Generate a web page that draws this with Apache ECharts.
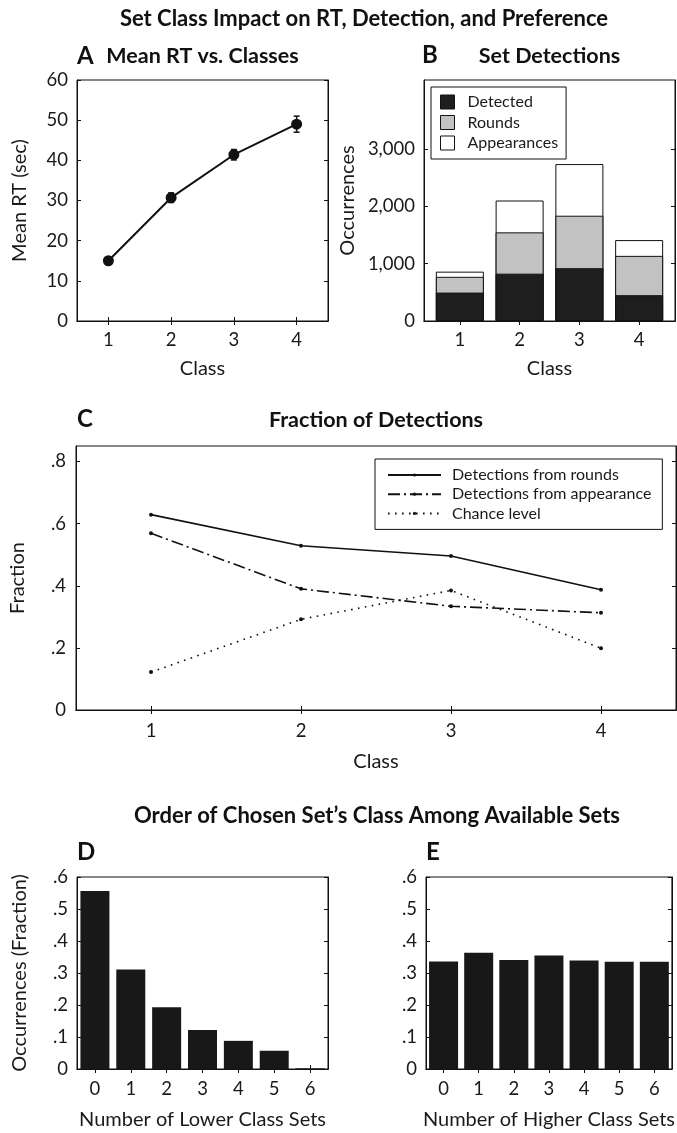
<!DOCTYPE html>
<html>
<head>
<meta charset="utf-8">
<title>Set Class Impact</title>
<script src="https://cdn.jsdelivr.net/npm/echarts@6/dist/echarts.min.js"></script>
<style>
html, body { margin: 0; padding: 0; background: #fff; }
#main { width: 677px; height: 1133px; }
</style>
</head>
<body>
<div id="main"></div>
<script>
// data
var classes = ['1', '2', '3', '4'];
var classNums = [1, 2, 3, 4];
var meanRT = [15.0, 30.7, 41.4, 49.0];
var meanRTErr = [0.6, 1.2, 1.3, 2.0];

var detected = [495, 825, 920, 450];
var rounds = [770, 1545, 1835, 1135];
var appearances = [860, 2100, 2735, 1410];
var ticksB = [0, 1000, 2000, 3000];

var fracRounds = [0.629, 0.529, 0.496, 0.387];
var fracAppear = [0.569, 0.390, 0.334, 0.313];
var fracChance = [0.122, 0.292, 0.385, 0.199];
var ticksC = [0, 0.2, 0.4, 0.6, 0.8];

var setCounts = ['0', '1', '2', '3', '4', '5', '6'];
var lowerFrac = [0.556, 0.311, 0.193, 0.122, 0.088, 0.057, 0.002];
var higherFrac = [0.336, 0.363, 0.341, 0.355, 0.339, 0.335, 0.335];

var FONT = 'Lato';
var INK = '#111';

var myChart = echarts.init(document.getElementById('main'), null, { renderer: 'canvas' });

function frac(v) {
    if (v === 0) return '0';
    return v.toFixed(1).replace(/^0/, '');
}
function thousands(v) {
    return v === 0 ? '0' : String(v).replace(/\B(?=(\d{3})+(?!\d))/g, ',');
}
function Ext(a, b) {
    for (var k in b) {
        if (b[k] && typeof b[k] === 'object' && !Array.isArray(b[k]) && a[k] && typeof a[k] === 'object') {
            a[k] = Ext(a[k], b[k]);
        } else {
            a[k] = b[k];
        }
    }
    return a;
}

// bottom / left axes carry labels, top / right are just mirrored ticks (box look)
function xAxisOf(grid, base, labelOpt, name, nameGap) {
    var ax = {
        gridIndex: grid,
        position: 'bottom',
        axisLine: { show: true, lineStyle: { color: INK, width: 1 } },
        axisTick: { show: true, inside: true, length: 4, alignWithLabel: true, lineStyle: { color: INK } },
        axisLabel: Ext({ show: true, fontFamily: FONT, fontSize: 18.5, color: '#1a1a1a', margin: 10 }, labelOpt || {}),
        splitLine: { show: false },
        name: name || '',
        nameLocation: 'middle',
        nameGap: nameGap || 30,
        nameTextStyle: { fontFamily: FONT, fontSize: 20, color: '#1a1a1a' }
    };
    return Ext(ax, base);
}
function topAxisOf(grid, base) {
    var ax = {
        gridIndex: grid,
        position: 'top',
        axisLine: { show: true, lineStyle: { color: INK, width: 1 } },
        axisTick: { show: true, inside: true, length: 4, alignWithLabel: true, lineStyle: { color: INK } },
        axisLabel: { show: false },
        splitLine: { show: false }
    };
    return Ext(ax, base);
}
function yAxisOf(grid, base, labelOpt, name, nameGap) {
    var ax = {
        gridIndex: grid,
        type: 'value',
        position: 'left',
        axisLine: { show: true, lineStyle: { color: INK, width: 1 } },
        axisTick: { show: true, inside: true, length: 4, lineStyle: { color: INK } },
        axisLabel: Ext({ show: true, fontFamily: FONT, fontSize: 18.5, color: '#1a1a1a', margin: 9 }, labelOpt || {}),
        splitLine: { show: false },
        name: name || '',
        nameLocation: 'middle',
        nameGap: nameGap || 40,
        nameTextStyle: { fontFamily: FONT, fontSize: 20, color: '#1a1a1a' }
    };
    return Ext(ax, base);
}
function rightAxisOf(grid, base) {
    var ax = {
        gridIndex: grid,
        type: 'value',
        position: 'right',
        axisLine: { show: true, lineStyle: { color: INK, width: 1 } },
        axisTick: { show: true, inside: true, length: 4, lineStyle: { color: INK } },
        axisLabel: { show: false },
        splitLine: { show: false }
    };
    return Ext(ax, base);
}

var xA = { type: 'category', data: classes, boundaryGap: true };
var xB = { type: 'value', min: 0.4, max: 4.6,
    axisTick: { customValues: classNums }, axisLabel: { customValues: classNums } };
var xC = { type: 'category', data: classes, boundaryGap: true };
var xD = { type: 'category', data: setCounts, boundaryGap: true };
var xE = { type: 'category', data: setCounts, boundaryGap: true };

var yA = { min: 0, max: 60, interval: 10 };
var yB = { min: 0, max: 4200, axisTick: { customValues: ticksB } };
var yC = { min: 0, max: 0.85, axisTick: { customValues: ticksC } };
var yD = { min: 0, max: 0.6, interval: 0.1 };
var yE = { min: 0, max: 0.6, interval: 0.1 };

function errorBars(params, api) {
    var x = api.value(0), y = api.value(1), e = api.value(2);
    var hi = api.coord([x, y + e]);
    var lo = api.coord([x, y - e]);
    var cap = 3;
    var st = { stroke: INK, lineWidth: 1.5 };
    return {
        type: 'group',
        children: [
            { type: 'line', shape: { x1: hi[0], y1: hi[1], x2: lo[0], y2: lo[1] }, style: st },
            { type: 'line', shape: { x1: hi[0] - cap, y1: hi[1], x2: hi[0] + cap, y2: hi[1] }, style: st },
            { type: 'line', shape: { x1: lo[0] - cap, y1: lo[1], x2: lo[0] + cap, y2: lo[1] }, style: st }
        ]
    };
}

function pairs(xs, ys) {
    return ys.map(function (v, i) { return [xs[i], v]; });
}

function txt(s, x, y, align, size) {
    return {
        type: 'text', x: x, y: y, silent: true,
        style: {
            text: s, fill: '#111',
            font: 'bold ' + size + 'px ' + FONT,
            align: align, verticalAlign: 'middle',
            textAlign: align, textVerticalAlign: 'middle'
        }
    };
}

var gridBox = { show: true, borderColor: INK, borderWidth: 1, backgroundColor: 'transparent', containLabel: false };

var option = {
    backgroundColor: '#fff',
    animation: false,
    textStyle: { fontFamily: FONT },
    grid: [
        Ext({ left: 77, top: 80, width: 251, height: 241 }, gridBox),
        Ext({ left: 424, top: 80, width: 251, height: 241 }, gridBox),
        Ext({ left: 76, top: 446, width: 600, height: 264 }, gridBox),
        Ext({ left: 77, top: 877, width: 251, height: 192 }, gridBox),
        Ext({ left: 426, top: 877, width: 249, height: 192 }, gridBox)
    ],
    xAxis: [
        xAxisOf(0, xA, null, 'Class', 38),
        xAxisOf(1, xB, { margin: 10 }, 'Class', 38),
        xAxisOf(2, xC, { margin: 12 }, 'Class', 42),
        xAxisOf(3, xD, { margin: 11 }, 'Number of Lower Class Sets', 41),
        xAxisOf(4, xE, { margin: 11 }, 'Number of Higher Class Sets', 41),
        topAxisOf(0, { type: 'category', data: classes, boundaryGap: true }),
        topAxisOf(1, { type: 'value', min: 0.4, max: 4.6, axisTick: { customValues: classNums } }),
        topAxisOf(2, { type: 'category', data: classes, boundaryGap: true }),
        topAxisOf(3, { type: 'category', data: setCounts, boundaryGap: true }),
        topAxisOf(4, { type: 'category', data: setCounts, boundaryGap: true })
    ],
    yAxis: [
        yAxisOf(0, yA, null, 'Mean RT (sec)', 47),
        yAxisOf(1, yB, { customValues: ticksB, formatter: thousands }, 'Occurrences', 66),
        yAxisOf(2, yC, { customValues: ticksC, formatter: frac, margin: 10 }, 'Fraction', 48),
        yAxisOf(3, yD, { formatter: frac }, 'Occurrences (Fraction)', 47),
        yAxisOf(4, yE, { formatter: frac }, '', 40),
        rightAxisOf(0, { min: 0, max: 60, interval: 10 }),
        rightAxisOf(1, { min: 0, max: 4200, axisTick: { customValues: ticksB } }),
        rightAxisOf(2, { min: 0, max: 0.85, axisTick: { customValues: ticksC } }),
        rightAxisOf(3, { min: 0, max: 0.6, interval: 0.1 }),
        rightAxisOf(4, { min: 0, max: 0.6, interval: 0.1 })
    ],
    legend: [
        {
            left: 431, top: 87,
            orient: 'vertical',
            padding: [7, 8, 8, 9],
            itemGap: 4.5,
            itemWidth: 14, itemHeight: 14,
            icon: 'rect',
            borderColor: INK, borderWidth: 1,
            backgroundColor: '#fff',
            textStyle: { fontFamily: FONT, fontSize: 16, color: '#1a1a1a', padding: [0, 0, 0, 8] },
            data: [
                { name: 'Detected', itemStyle: { borderColor: INK, borderWidth: 1 } },
                { name: 'Rounds', itemStyle: { borderColor: INK, borderWidth: 1 } },
                { name: 'Appearances', itemStyle: { borderColor: INK, borderWidth: 1 } }
            ]
        },
        {
            left: 375, top: 459,
            orient: 'vertical',
            padding: [8, 11, 8, 12],
            itemGap: 3.2,
            itemWidth: 53, itemHeight: 4,
            borderColor: INK, borderWidth: 1,
            backgroundColor: '#fff',
            textStyle: { fontFamily: FONT, fontSize: 16, color: '#1a1a1a', padding: [0, 0, 0, 6] },
            data: ['Detections from rounds', 'Detections from appearance', 'Chance level']
        }
    ],
    series: [
        // A
        {
            name: 'Mean RT', type: 'line', xAxisIndex: 0, yAxisIndex: 0,
            data: meanRT,
            symbol: 'circle', symbolSize: 11,
            itemStyle: { color: INK },
            lineStyle: { color: INK, width: 2 },
            z: 3
        },
        {
            name: 'Mean RT err', type: 'custom', xAxisIndex: 0, yAxisIndex: 0,
            data: meanRT.map(function (v, i) { return [i, v, meanRTErr[i]]; }),
            renderItem: errorBars,
            z: 4
        },
        // B (overlaid totals)
        {
            name: 'Appearances', type: 'bar', xAxisIndex: 1, yAxisIndex: 1,
            data: pairs(classNums, appearances),
            barWidth: 48, barGap: '-100%',
            itemStyle: { color: '#fff', borderColor: INK, borderWidth: 1 }
        },
        {
            name: 'Rounds', type: 'bar', xAxisIndex: 1, yAxisIndex: 1,
            data: pairs(classNums, rounds),
            barWidth: 48, barGap: '-100%',
            itemStyle: { color: '#c2c2c2', borderColor: INK, borderWidth: 1 }
        },
        {
            name: 'Detected', type: 'bar', xAxisIndex: 1, yAxisIndex: 1,
            data: pairs(classNums, detected),
            barWidth: 48, barGap: '-100%',
            itemStyle: { color: '#1e1e1e', borderColor: INK, borderWidth: 1 }
        },
        // C
        {
            name: 'Detections from rounds', type: 'line', xAxisIndex: 2, yAxisIndex: 2,
            data: fracRounds,
            symbol: 'circle', symbolSize: 4,
            itemStyle: { color: INK },
            lineStyle: { color: INK, width: 1.6, type: 'solid' }
        },
        {
            name: 'Detections from appearance', type: 'line', xAxisIndex: 2, yAxisIndex: 2,
            data: fracAppear,
            symbol: 'circle', symbolSize: 4,
            itemStyle: { color: INK },
            lineStyle: { color: INK, width: 1.6, type: [12, 4, 2, 4] }
        },
        {
            name: 'Chance level', type: 'line', xAxisIndex: 2, yAxisIndex: 2,
            data: fracChance,
            symbol: 'circle', symbolSize: 4,
            itemStyle: { color: INK },
            lineStyle: { color: INK, width: 1.6, type: [1.6, 5.4] }
        },
        // D, E
        {
            name: 'Lower', type: 'bar', xAxisIndex: 3, yAxisIndex: 3,
            data: lowerFrac, barWidth: 29,
            itemStyle: { color: '#181818' }
        },
        {
            name: 'Higher', type: 'bar', xAxisIndex: 4, yAxisIndex: 4,
            data: higherFrac, barWidth: 29,
            itemStyle: { color: '#181818' }
        }
    ],
    graphic: [
        txt('Set Class Impact on RT, Detection, and Preference', 364, 19, 'center', 22),
        txt('A', 77, 56, 'left', 24),
        txt('Mean RT vs. Classes', 202.5, 56, 'center', 21.5),
        txt('B', 422, 55, 'left', 24),
        txt('Set Detections', 549.5, 56.5, 'center', 21.5),
        txt('C', 77, 419, 'left', 24),
        txt('Fraction of Detections', 376, 420.5, 'center', 21.5),
        txt('Order of Chosen Set\u2019s Class Among Available Sets', 377, 816, 'center', 22),
        txt('D', 77, 852, 'left', 24),
        txt('E', 426, 852, 'left', 24)
    ]
};

if (option)
    myChart.setOption(option);
</script>
</body>
</html>
